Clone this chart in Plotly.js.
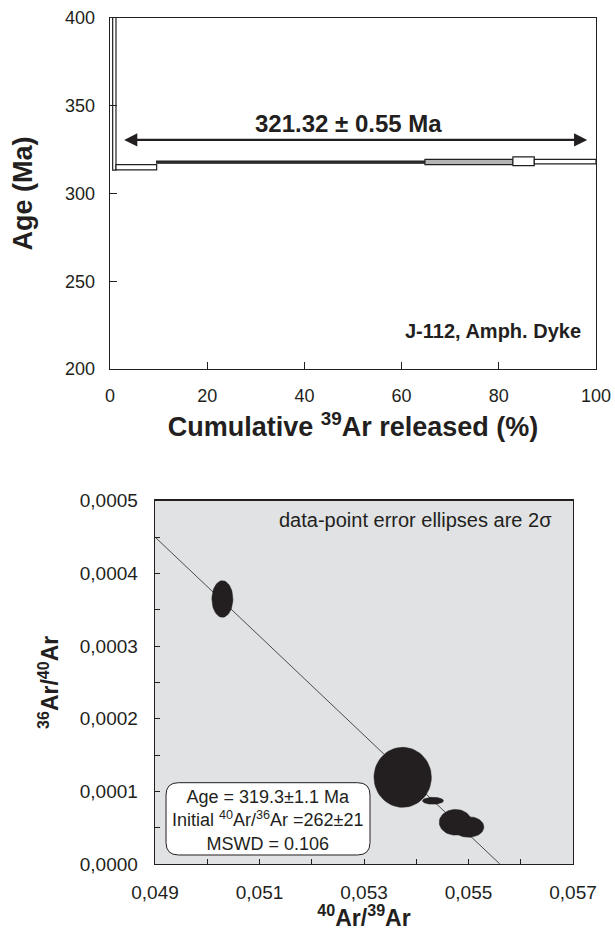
<!DOCTYPE html>
<html><head><meta charset="utf-8">
<script src="https://cdn.plot.ly/plotly-3.0.1.min.js"></script>
<style>html,body{margin:0;padding:0;background:#fff}#chart{width:615px;height:931px}</style>
</head><body><div id="chart"></div>
<script>
// ---- Age spectrum (top) ----
const stepStart = [0.55, 1.23, 9.6, 64.8, 82.9, 87.3];   // cumulative 39Ar (%)
const stepEnd   = [1.23, 9.6, 64.8, 82.9, 87.3, 100];
const stepAge   = [380, 315.0, 317.9, 317.9, 318.4, 318.2]; // Ma
const stepErr   = [66.7, 1.5, 0.6, 1.5, 2.5, 1.3];          // Ma
const plateauAge = "321.32 ± 0.55 Ma";
const sampleName = "J-112, Amph. Dyke";

// ---- Inverse isochron (bottom) ----
const ar40ar39 = [0.05029, 0.05374, 0.05432, 0.05475, 0.05500];
const ar36ar40 = [0.0003647, 0.0001193, 0.0000870, 0.0000574, 0.0000509];
const err40_39 = [0.000201, 0.000549, 0.000201, 0.00031, 0.000294];
const err36_40 = [0.0000252, 0.0000413, 0.0000048, 0.0000177, 0.0000142];
const isoX = [0.049, 0.05560];
const isoY = [0.000450, 0.0];
const isoText = ["Age = 319.3±1.1 Ma", "Initial <sup>40</sup>Ar/<sup>36</sup>Ar =262±21", "MSWD = 0.106"];

const INK = '#231f20';
const FONT = 'Liberation Sans, Arial, sans-serif';
const stepFill = ['#ffffff', '#ffffff', '#3a3a3a', '#b4b4b4', '#ffffff', '#ffffff'];

const bars = {
  type: 'bar', xaxis: 'x', yaxis: 'y',
  x: stepStart.map((s, i) => (s + stepEnd[i]) / 2),
  width: stepStart.map((s, i) => stepEnd[i] - s),
  base: stepAge.map((a, i) => a - stepErr[i]),
  y: stepErr.map(e => 2 * e),
  marker: {color: stepFill, line: {color: INK, width: 1.2}},
  hoverinfo: 'skip', showlegend: false
};

// ellipses
const ex = [], ey = [];
for (let i = 0; i < ar40ar39.length; i++) {
  for (let k = 0; k <= 60; k++) {
    const t = 2 * Math.PI * k / 60;
    ex.push(ar40ar39[i] + err40_39[i] * Math.cos(t));
    ey.push(ar36ar40[i] + err36_40[i] * Math.sin(t));
  }
  ex.push(null); ey.push(null);
}
const ellipses = {
  type: 'scatter', mode: 'lines', xaxis: 'x2', yaxis: 'y2',
  x: ex, y: ey, fill: 'toself', fillcolor: INK,
  line: {color: INK, width: 0.5}, hoverinfo: 'skip', showlegend: false
};
const isoLine = {
  type: 'scatter', mode: 'lines', xaxis: 'x2', yaxis: 'y2',
  x: isoX, y: isoY, line: {color: '#3a3a3a', width: 0.9},
  hoverinfo: 'skip', showlegend: false
};

// rounded box (data coords of bottom plot)
const bx0 = 0.049211, bx1 = 0.053115, by0 = 0.0000124, by1 = 0.0001119;
const rx = 0.00024, ry = 0.0000170;
const boxPath = `M ${bx0+rx},${by1} L ${bx1-rx},${by1} Q ${bx1},${by1} ${bx1},${by1-ry} L ${bx1},${by0+ry} Q ${bx1},${by0} ${bx1-rx},${by0} L ${bx0+rx},${by0} Q ${bx0},${by0} ${bx0},${by0+ry} L ${bx0},${by1-ry} Q ${bx0},${by1} ${bx0+rx},${by1} Z`;

const axCommon = {
  showline: true, linecolor: INK, linewidth: 1.3, mirror: true,
  showgrid: false, zeroline: false, ticks: 'inside', tickcolor: INK,
  tickfont: {family: FONT, size: 18, color: INK}
};

const layout = {
  width: 615, height: 931,
  margin: {l: 0, r: 0, t: 0, b: 0},
  paper_bgcolor: '#ffffff', plot_bgcolor: '#ffffff',
  separators: ', ',
  font: {family: FONT, color: INK},
  xaxis: Object.assign({}, axCommon, {
    domain: [110/615, 596/615], anchor: 'y', range: [0, 100], dtick: 20, tick0: 0,
    ticklen: 7, ticklabelstandoff: 10,
    title: {text: 'Cumulative <sup>39</sup>Ar released (%)', standoff: 12,
            font: {family: FONT, size: 27, weight: 'bold', color: INK}}
  }),
  yaxis: Object.assign({}, axCommon, {
    domain: [1 - 369/931, 1 - 18/931], anchor: 'x', range: [200, 400], dtick: 50, tick0: 200,
    ticklen: 7, ticklabelstandoff: 10,
    title: {text: 'Age (Ma)', standoff: 24,
            font: {family: FONT, size: 27, weight: 'bold', color: INK}}
  }),
  xaxis2: Object.assign({}, axCommon, {
    domain: [155/615, 573/615], anchor: 'y2', range: [0.049, 0.057], dtick: 0.002, tick0: 0.049,
    tickformat: '.3f', ticklen: 5, ticklabelstandoff: 11,
    tickfont: {family: FONT, size: 19, color: INK},
    minor: {dtick: 0.001, tick0: 0.049, ticks: 'inside', ticklen: 5, tickcolor: INK},
    title: {text: '<sup>40</sup>Ar/<sup>39</sup>Ar', standoff: 19,
            font: {family: FONT, size: 23, weight: 'bold', color: INK}}
  }),
  yaxis2: Object.assign({}, axCommon, {
    domain: [1 - 864/931, 1 - 500.7/931], anchor: 'x2', range: [0, 0.0005], dtick: 0.0001, tick0: 0,
    tickformat: '.4f', ticklen: 5, ticklabelstandoff: 12,
    tickfont: {family: FONT, size: 19, color: INK},
    minor: {dtick: 0.00005, tick0: 0, ticks: 'inside', ticklen: 5, tickcolor: INK},
    title: {text: '<sup>36</sup>Ar/<sup>40</sup>Ar', standoff: 14,
            font: {family: FONT, size: 23, weight: 'bold', color: INK}}
  }),
  shapes: [
    {type: 'rect', xref: 'x2 domain', yref: 'y2 domain', x0: 0, x1: 1, y0: 0, y1: 1,
     fillcolor: '#e1e2e4', line: {width: 0}, layer: 'below'},
    {type: 'path', xref: 'x2', yref: 'y2', path: boxPath, fillcolor: '#ffffff',
     line: {color: INK, width: 1}, layer: 'above'}
  ],
  annotations: [
    {xref: 'x', yref: 'y', x: 98.2, y: 330.5, ax: 2.6, ay: 330.5, axref: 'x', ayref: 'y',
     text: '', showarrow: true, arrowhead: 2, arrowside: 'end+start', arrowsize: 1.2,
     arrowwidth: 2.2, arrowcolor: INK},
    {xref: 'x', yref: 'y', x: 49, y: 339.6, text: '<b>' + plateauAge + '</b>', showarrow: false,
     font: {family: FONT, size: 24, color: INK}},
    {xref: 'x', yref: 'y', x: 97.3, y: 221.9, xanchor: 'right', text: '<b>' + sampleName + '</b>',
     showarrow: false, font: {family: FONT, size: 20, color: INK}},
    {xref: 'x2', yref: 'y2', x: 0.056636, y: 0.0004734, xanchor: 'right',
     text: 'data-point error ellipses are 2σ', showarrow: false,
     font: {family: FONT, size: 20, color: INK}},
    {xref: 'x2', yref: 'y2', x: 0.051163, y: 0.0000605, text: isoText.join('<br>'),
     showarrow: false, align: 'center', font: {family: FONT, size: 18, color: INK}}
  ]
};

Plotly.newPlot('chart', [bars, isoLine, ellipses], layout, {staticPlot: true, displayModeBar: false});
</script>
</body></html>
